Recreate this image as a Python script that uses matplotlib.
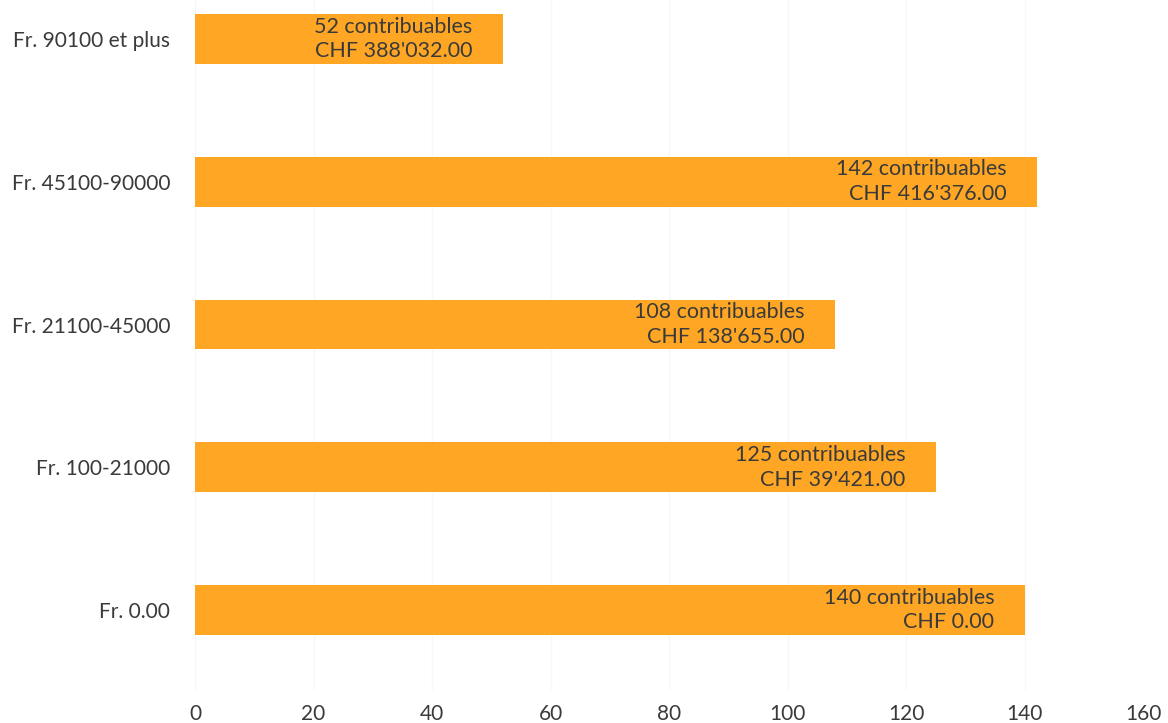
import matplotlib.pyplot as plt

categories = ['Fr. 0.00', 'Fr. 100-21000', 'Fr. 21100-45000', 'Fr. 45100-90000', 'Fr. 90100 et plus']
counts = [140, 125, 108, 142, 52]
amounts = ["CHF 0.00", "CHF 39'421.00", "CHF 138'655.00", "CHF 416'376.00", "CHF 388'032.00"]
xticks = [0, 20, 40, 60, 80, 100, 120, 140, 160]

plt.rcParams['font.family'] = ['Lato', 'DejaVu Sans']

fig = plt.figure(figsize=(11.68, 7.23), dpi=100)
ax = fig.add_axes([0.167, 1 - 690 / 723, 0.812, 690 / 723])

y = range(len(categories))
ax.barh(y, counts, height=0.35, color='#FFA724', zorder=2)

for i, (c, a) in enumerate(zip(counts, amounts)):
    ax.annotate(f'{c} contribuables\n{a}', xy=(c, i), xytext=(-22, 0),
                textcoords='offset points', ha='right', va='center',
                fontsize=15.5, color='#3a3a3a', linespacing=1.3, zorder=3)

ax.set_xlim(0, 160)
ax.set_ylim(-0.56, 4.273)
ax.set_xticks(xticks)
ax.set_yticks(list(y))
ax.set_yticklabels(categories)
ax.tick_params(axis='both', length=0, labelsize=15, colors='#3a3a3a')
ax.tick_params(axis='x', pad=10)
ax.tick_params(axis='y', pad=18)
ax.grid(axis='x', color='#f7f7f7', linewidth=1, zorder=0)
for s in ax.spines.values():
    s.set_visible(False)

fig.savefig('out.png', dpi=100)
